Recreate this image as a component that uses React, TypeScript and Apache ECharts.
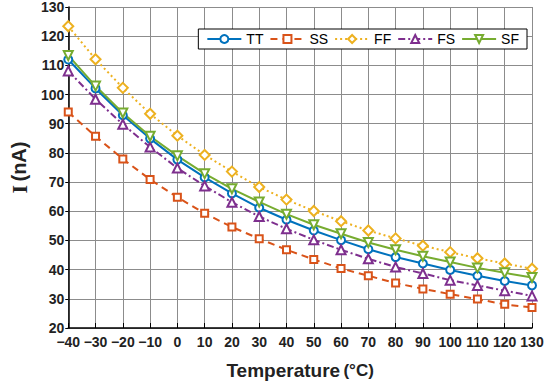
import React, { useEffect, useRef } from "react";
import * as echarts from "echarts";

const temps = [-40, -30, -20, -10, 0, 10, 20, 30, 40, 50, 60, 70, 80, 90, 100, 110, 120, 130];
const TT = [112, 102.1, 92.9, 84.9, 77.7, 71.6, 66.1, 61.2, 57.1, 53.4, 50.1, 47, 44.3, 42.1, 39.9, 37.9, 36.1, 34.6];
const SS = [94, 85.7, 77.9, 70.9, 64.8, 59.3, 54.6, 50.6, 46.8, 43.5, 40.4, 37.9, 35.4, 33.4, 31.6, 29.9, 28.1, 27];
const FF = [123.4, 112.1, 102.3, 93.4, 85.9, 79.3, 73.6, 68.3, 64, 60.1, 56.6, 53.4, 50.7, 48.2, 46, 43.9, 42.1, 40.3];
const FS = [108.1, 98.4, 89.8, 82, 74.8, 68.7, 63.1, 58.2, 54, 50.2, 46.8, 43.7, 40.9, 38.7, 36.4, 34.6, 32.8, 31];
const SF = [113.4, 102.9, 93.7, 85.7, 79, 72.9, 67.7, 63.2, 59, 55.4, 52.3, 49.3, 46.8, 44.6, 42.6, 40.6, 38.9, 37.3];

const seriesDefs = [
  { name: "TT", data: TT, color: "#0072BD", type: "solid" as any, symbol: "circle", rotate: 0, size: 8 },
  { name: "SS", data: SS, color: "#D95319", type: [7, 5] as any, symbol: "rect", rotate: 0, size: 7 },
  { name: "FF", data: FF, color: "#EDB120", type: [2, 3] as any, symbol: "diamond", rotate: 0, size: 10 },
  { name: "FS", data: FS, color: "#7E2F8E", type: [7, 3, 2, 3] as any, symbol: "triangle", rotate: 0, size: 9 },
  { name: "SF", data: SF, color: "#77AC30", type: "solid" as any, symbol: "triangle", rotate: 180, size: 9 },
];

const FONT = "'Liberation Sans', Arial, sans-serif";

export default function App() {
  const ref = useRef<HTMLDivElement>(null);
  useEffect(() => {
    if (!ref.current) return;
    const chart = echarts.init(ref.current, undefined, { renderer: "svg" });
    chart.setOption({
      animation: false,
      backgroundColor: "#ffffff",
      grid: { left: 52, right: 18, top: 7, bottom: 48, containLabel: false },
      legend: {
        right: 23,
        top: 29,
        orient: "horizontal",
        backgroundColor: "#ffffff",
        borderColor: "#000000",
        borderWidth: 1,
        borderRadius: 0,
        padding: [3, 8, 3, 8],
        itemGap: 6,
        itemWidth: 34,
        itemHeight: 10,
        textStyle: { fontFamily: FONT, fontSize: 14, color: "#000" },
        data: seriesDefs.map((s) => s.name),
      },
      xAxis: {
        type: "value",
        min: -40,
        max: 130,
        interval: 10,
        name: "{a|Temperature} {b|(°C)}",
        nameLocation: "middle",
        nameGap: 33,
        nameTextStyle: {
          rich: {
            a: { fontFamily: FONT, fontSize: 19, fontWeight: "bold", color: "#222" },
            b: { fontFamily: FONT, fontSize: 17, fontWeight: "bold", color: "#222" },
          },
        },
        axisLine: { show: true, onZero: false, lineStyle: { color: "#000", width: 1.5 } },
        axisTick: { show: true, inside: true, length: 5, lineStyle: { color: "#000" } },
        axisLabel: {
          fontFamily: FONT,
          fontSize: 14,
          fontWeight: "bold",
          color: "#222",
          margin: 7,
          formatter: (v: number) => String(v).replace("-", "\u2212"),
        },
        splitLine: { show: true, lineStyle: { color: "#8c8c8c", width: 1 } },
      },
      yAxis: {
        type: "value",
        min: 20,
        max: 130,
        interval: 10,
        name: "{a|I} {b|(nA)}",
        nameLocation: "middle",
        nameGap: 30,
        nameRotate: 90,
        nameTextStyle: {
          rich: {
            a: { fontFamily: "'Liberation Serif', 'Times New Roman', serif", fontSize: 22, fontWeight: "bold", color: "#222" },
            b: { fontFamily: FONT, fontSize: 20, fontWeight: "bold", color: "#222" },
          },
        },
        axisLine: { show: true, onZero: false, lineStyle: { color: "#000", width: 1.5 } },
        axisTick: { show: true, inside: false, length: 3, lineStyle: { color: "#000" } },
        axisLabel: { fontFamily: FONT, fontSize: 14, fontWeight: "bold", color: "#222", margin: 4 },
        splitLine: { show: true, lineStyle: { color: "#8c8c8c", width: 1 } },
      },
      series: seriesDefs.map((s) => ({
        name: s.name,
        type: "line",
        data: temps.map((t, i) => [t, s.data[i]]),
        symbol: s.symbol,
        symbolSize: s.size,
        symbolRotate: s.rotate,
        showSymbol: true,
        lineStyle: { color: s.color, width: 2, type: s.type },
        itemStyle: { color: "#ffffff", borderColor: s.color, borderWidth: 2 },
        emphasis: { disabled: true },
      })),
    });
    return () => chart.dispose();
  }, []);
  return <div ref={ref} style={{ width: 550, height: 385, position: "absolute", left: 0, top: 0 }} />;
}
